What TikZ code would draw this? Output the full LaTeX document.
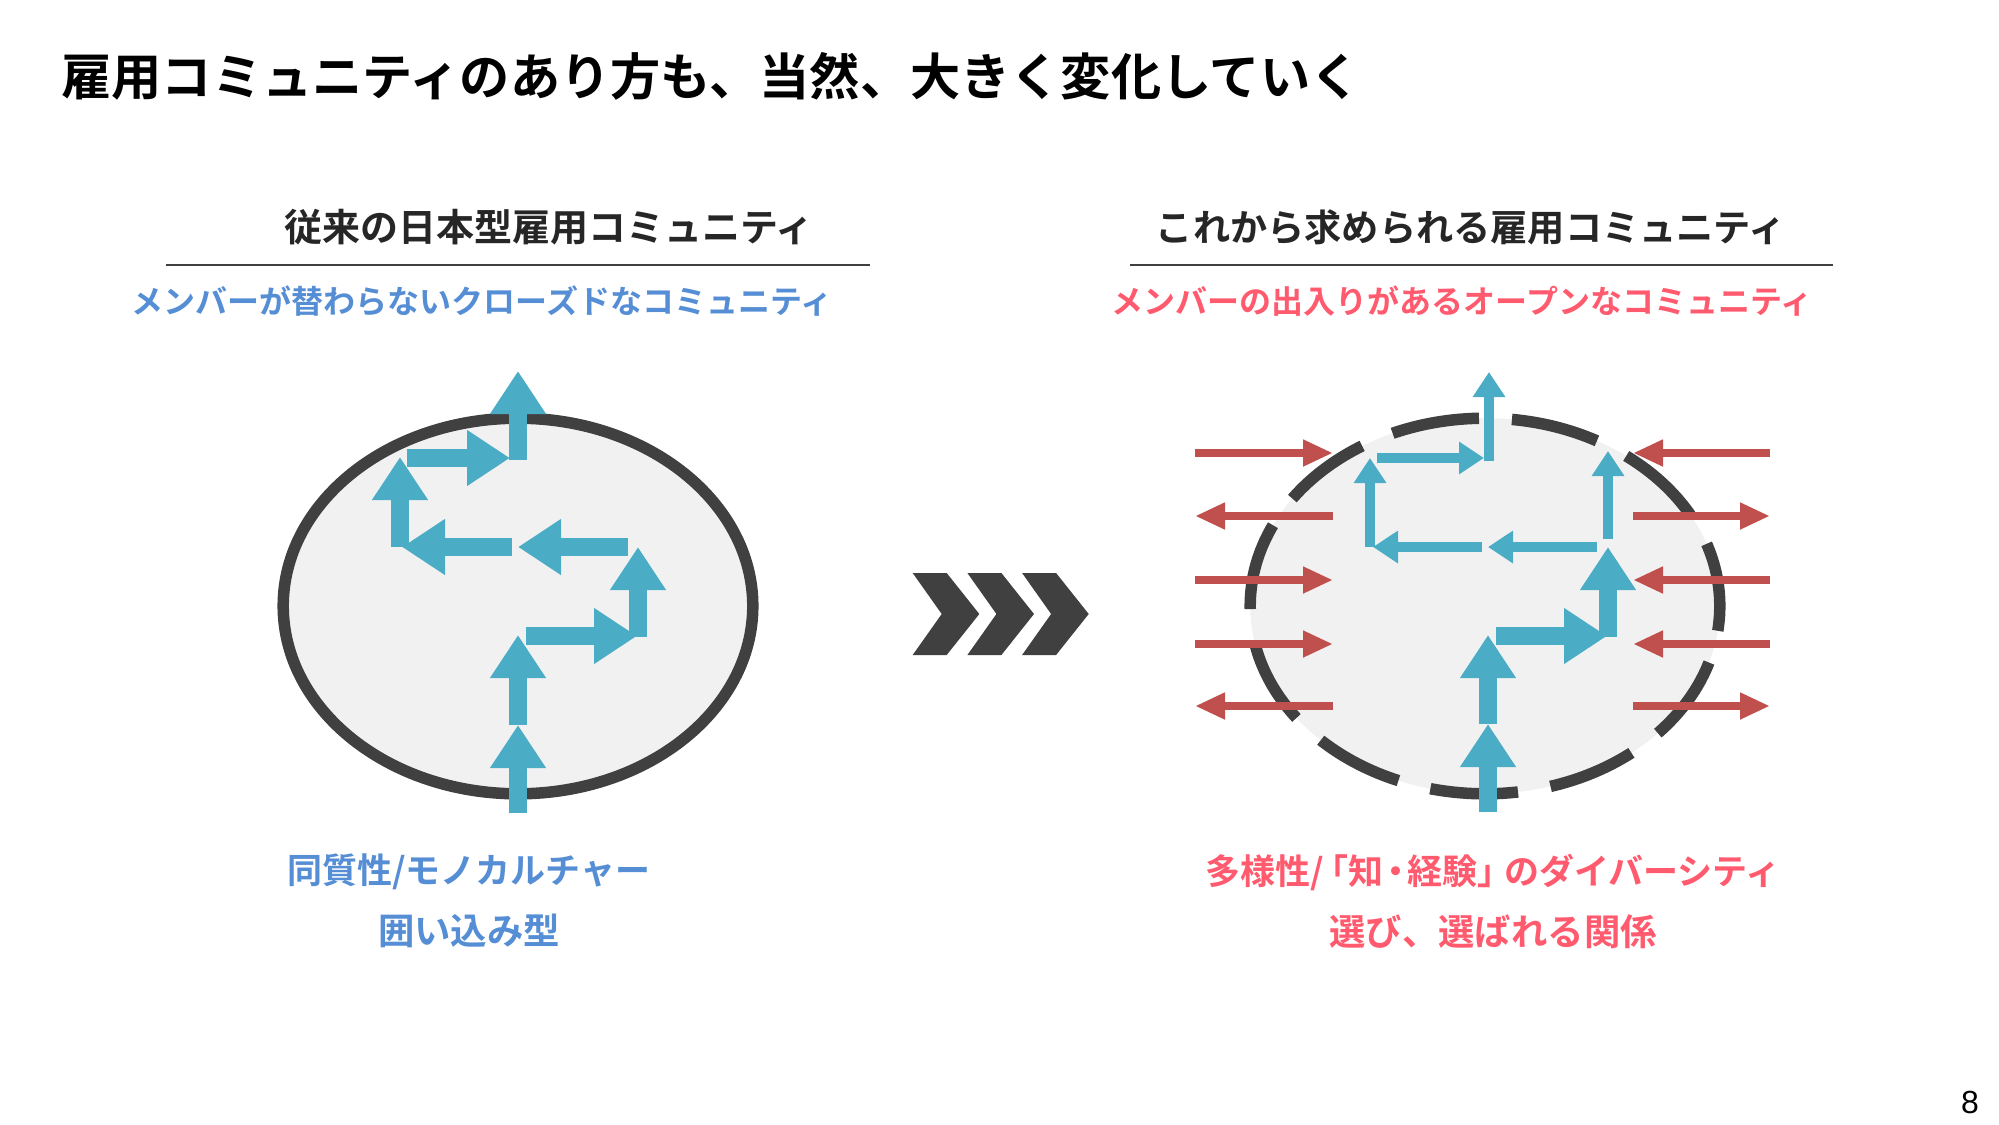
\documentclass[tikz,border=0pt]{standalone}
\usepackage{fontspec}
\setmainfont{Noto Sans CJK JP}[BoldFont={Noto Sans CJK JP Bold}]
\newfontfamily\pagefont{Liberation Sans}
\usetikzlibrary{arrows.meta}
\definecolor{flowblue}{HTML}{4BACC6}
\definecolor{moved}{HTML}{C0504D}
\definecolor{ringgray}{HTML}{404040}
\definecolor{ovalfill}{HTML}{F1F1F1}
\definecolor{headgray}{HTML}{262626}
\definecolor{closedblue}{HTML}{558ED5}
\definecolor{openpink}{HTML}{FF5A6E}
\newcommand{\bigline}{\fontsize{18.2pt}{30.5pt}\selectfont}

\begin{document}
\begin{tikzpicture}[x=0.5pt, y=-0.5pt,
    title/.style={font=\bfseries\fontsize{25.1pt}{30pt}\selectfont, inner sep=0pt},
    heading/.style={font=\bfseries\fontsize{18.6pt}{22pt}\selectfont, text=headgray, inner sep=0pt},
    subhead/.style={font=\bfseries\fontsize{16pt}{19pt}\selectfont, inner sep=0pt},
    note/.style={font=\bfseries\fontsize{17.5pt}{30.5pt}\selectfont, align=center, inner sep=0pt},
    rule/.style={draw=ringgray, line width=1.3pt},
    fat/.style={draw=flowblue, line width=9pt, -{Triangle[width=26.5pt,length=21.5pt]}},
    slim/.style={draw=flowblue, line width=5pt, -{Triangle[width=15.5pt,length=12.5pt]}},
    inout/.style={draw=moved, line width=4.25pt, -{Triangle[width=12.5pt,length=15pt]}}
]
    \useasboundingbox[fill=white] (0,0) rectangle (1999,1125);

    % texts
    \node[title, anchor=west] (title) at (61,76) {雇用コミュニティのあり方も、当然、大きく変化していく};
    \node[heading, font=\bfseries\fontsize{19pt}{22pt}\selectfont] (oldhead) at (549,227) {従来の日本型雇用コミュニティ};
    \node[heading] (newhead) at (1471,227) {これから求められる雇用コミュニティ};
    \draw[rule] (166,265) -- (870,265);
    \draw[rule] (1130,265) -- (1833,265);
    \node[subhead, text=closedblue] (oldsub) at (482,301) {メンバーが替わらないクローズドなコミュニティ};
    \node[subhead, text=openpink] (newsub) at (1462,301) {メンバーの出入りがあるオープンなコミュニティ};
    \node[note, text=closedblue] (oldnote) at (469,901) {同質性/モノカルチャー\\{\bigline 囲い込み型}};
    \node[note, text=openpink] (newnote) at (1493,901) {多様性/\kern-0.3em「知\kern-0.15em・\kern-0.15em経験」\kern-0.25emのダイバーシティ\\{\bigline 選び、選ばれる関係}};
    \node[font=\pagefont\fontsize{16pt}{18pt}\selectfont, inner sep=0pt] (page) at (1970,1102) {8};

    % communities
    \filldraw[fill=ovalfill, draw=ringgray, line width=5.75pt] (518,606) ellipse [x radius=117.4pt, y radius=93.9pt];
    \fill[ovalfill] (1485,606) ellipse [x radius=117.4pt, y radius=93.9pt];
    \draw[ringgray, line width=5.75pt, dash pattern=on 44pt off 16.5pt, dash phase=12pt] (1485,606) ellipse [x radius=117.4pt, y radius=93.9pt];

    % chevrons
    \foreach \s in {0,54.7,109.4}
        \fill[ringgray] (912.7+\s,573) -- (946.7+\s,573) -- (979.3+\s,614) -- (946.7+\s,655) -- (912.7+\s,655) -- (941.7+\s,614) -- cycle;

    % closed path
    \coordinate (o1s) at (518,813); \coordinate (o1e) at (518,725);
    \coordinate (o2s) at (518,725); \coordinate (o2e) at (518,635);
    \coordinate (o3s) at (526,636); \coordinate (o3e) at (637,636);
    \coordinate (o4s) at (638,637); \coordinate (o4e) at (638,547);
    \coordinate (o5s) at (628,547); \coordinate (o5e) at (518,547);
    \coordinate (o6s) at (512,547); \coordinate (o6e) at (402,547);
    \coordinate (o7s) at (400,547); \coordinate (o7e) at (400,457);
    \coordinate (o8s) at (407,458); \coordinate (o8e) at (510,458);
    \coordinate (o9s) at (518,460); \coordinate (o9e) at (518,371);
    \foreach \i in {1,...,9}
        \draw[fat] (o\i s) -- (o\i e);

    % open path
    \coordinate (n1s) at (1488,812); \coordinate (n1e) at (1488,724);
    \coordinate (n2s) at (1488,724); \coordinate (n2e) at (1488,635);
    \coordinate (n3s) at (1496,636); \coordinate (n3e) at (1607,636);
    \coordinate (n4s) at (1608,637); \coordinate (n4e) at (1608,547);
    \coordinate (n5s) at (1608,539); \coordinate (n5e) at (1608,451);
    \coordinate (n6s) at (1597,547); \coordinate (n6e) at (1488,547);
    \coordinate (n7s) at (1482,547); \coordinate (n7e) at (1373,547);
    \coordinate (n8s) at (1370,547); \coordinate (n8e) at (1370,458);
    \coordinate (n9s) at (1377,458); \coordinate (n9e) at (1484,458);
    \coordinate (n10s) at (1489,461); \coordinate (n10e) at (1489,372);
    \foreach \i in {1,...,4}
        \draw[fat] (n\i s) -- (n\i e);
    \foreach \i in {5,...,10}
        \draw[slim] (n\i s) -- (n\i e);

    % members in and out
    \foreach \i/\y in {1/453,2/516,3/580,4/644,5/706} {
        \coordinate (lo\i) at (1195,\y); \coordinate (li\i) at (1333,\y);
        \coordinate (ri\i) at (1633,\y); \coordinate (ro\i) at (1770,\y);
    }
    \foreach \i in {1,3,4} {
        \draw[inout] (lo\i) -- (li\i);
        \draw[inout] (ro\i) -- (ri\i);
    }
    \foreach \i in {2,5} {
        \draw[inout] (li\i) -- (lo\i);
        \draw[inout] (ri\i) -- (ro\i);
    }
\end{tikzpicture}
\end{document}
